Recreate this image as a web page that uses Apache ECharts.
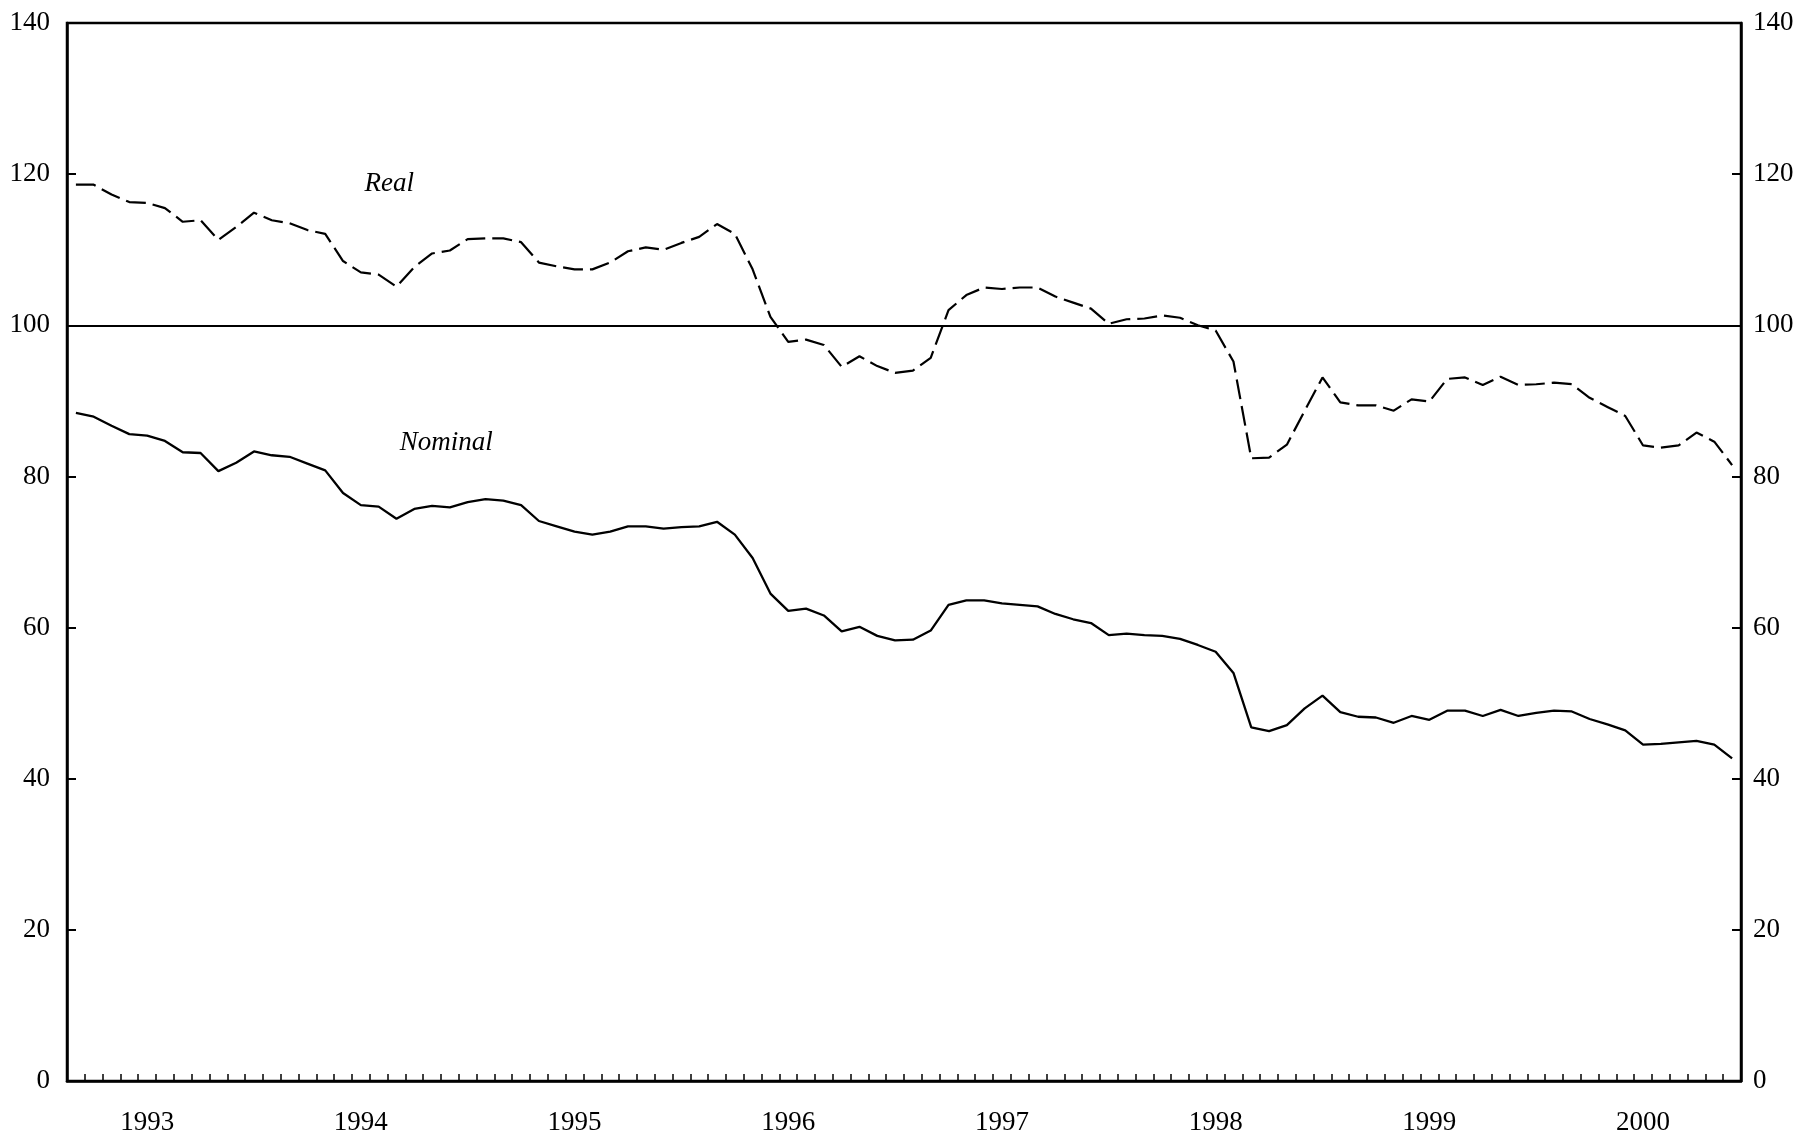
<!DOCTYPE html>
<html><head><meta charset="utf-8">
<script src="https://cdn.jsdelivr.net/npm/echarts@6/dist/echarts.min.js"></script>
<style>html,body{margin:0;padding:0;background:#fff}#c{width:1811px;height:1136px}</style>
</head><body><div id="c"></div>
<script>
// Monthly observations, March 1993 - December 2000
const startYear = 1993;
const startMonth = 3;
const monthCount = 94;
const months = [];
for (let k = 0; k < monthCount; k++) {
  const m = startMonth - 1 + k;
  const y = startYear + Math.floor(m / 12);
  const mm = (m % 12) + 1;
  months.push(y + '-' + (mm < 10 ? '0' + mm : mm));
}

const nominal = [
  88.4, 87.9, 86.7, 85.6, 85.4, 84.7, 83.2, 83.1, 80.7, 81.8,
  83.3, 82.8, 82.6, 81.7, 80.8, 77.8, 76.2, 76.0, 74.4, 75.7,
  76.1, 75.9, 76.6, 77.0, 76.8, 76.2, 74.1, 73.4, 72.7, 72.3,
  72.7, 73.4, 73.4, 73.1, 73.3, 73.4, 74.0, 72.3, 69.2, 64.5,
  62.2, 62.5, 61.6, 59.5, 60.1, 58.9, 58.3, 58.4, 59.6, 63.0,
  63.6, 63.6, 63.2, 63.0, 62.8, 61.8, 61.1, 60.6, 59.0, 59.2,
  59.0, 58.9, 58.5, 57.7, 56.8, 54.0, 46.8, 46.3, 47.1, 49.3,
  51.0, 48.8, 48.2, 48.1, 47.4, 48.3, 47.8, 49.0, 49.0, 48.3,
  49.1, 48.3, 48.7, 49.0, 48.9, 47.9, 47.2, 46.4, 44.5, 44.6,
  44.8, 45.0, 44.5, 42.7
];

const real = [
  118.6, 118.6, 117.3, 116.3, 116.2, 115.5, 113.7, 113.9, 111.3, 113.0,
  114.9, 113.9, 113.5, 112.6, 112.1, 108.5, 107.0, 106.7, 105.1, 107.7,
  109.5, 109.9, 111.4, 111.5, 111.5, 111.0, 108.3, 107.8, 107.4, 107.4,
  108.3, 109.8, 110.3, 110.0, 110.9, 111.7, 113.4, 112.1, 107.4, 101.1,
  97.8, 98.1, 97.4, 94.5, 95.9, 94.6, 93.7, 94.0, 95.7, 102.0,
  104.0, 105.0, 104.8, 105.0, 105.0, 103.8, 103.0, 102.2, 100.2, 100.8,
  100.9, 101.3, 101.0, 100.0, 99.3, 95.2, 82.4, 82.5, 84.2, 88.7,
  93.1, 89.8, 89.4, 89.4, 88.7, 90.2, 89.9, 92.9, 93.1, 92.1,
  93.2, 92.1, 92.2, 92.4, 92.2, 90.4, 89.2, 88.0, 84.1, 83.8,
  84.1, 85.8, 84.6, 81.5
];

const referenceLevel = 100;
const yMin = 0, yMax = 140, yStep = 20;
const yearLabelMonth = 7; // year label sits under July
const annotations = [
  { text: 'Real', x: 17.6, y: 118.7 },
  { text: 'Nominal', x: 20.8, y: 84.4 }
];

const FONT = '"Liberation Serif", "Times New Roman", serif';
const chart = echarts.init(document.getElementById('c'), null, { renderer: 'canvas' });

const yAxisBase = (pos, margin) => ({
  type: 'value', position: pos, min: yMin, max: yMax, interval: yStep,
  axisLine: { show: true, onZero: false, lineStyle: { color: '#000', width: 2.5 } },
  axisTick: { show: true, inside: true, length: 9, lineStyle: { color: '#000', width: 2 } },
  axisLabel: { margin: margin, color: '#000', fontFamily: FONT, fontSize: 27 },
  splitLine: { show: false }
});

chart.setOption({
  animation: false,
  backgroundColor: '#fff',
  grid: { left: 67, right: 70, top: 23, bottom: 55, show: true, borderColor: '#000', borderWidth: 2.5, backgroundColor: 'transparent' },
  xAxis: {
    type: 'category', data: months, boundaryGap: true,
    axisLine: { show: true, lineStyle: { color: '#000', width: 2.5 } },
    axisTick: { show: true, inside: true, length: 7, interval: 0, lineStyle: { color: '#000', width: 1.5 } },
    axisLabel: {
      interval: (idx, val) => parseInt(val.slice(5), 10) === yearLabelMonth,
      formatter: v => v.slice(0, 4),
      margin: 28, color: '#000', fontFamily: FONT, fontSize: 27
    },
    splitLine: { show: false }
  },
  yAxis: [yAxisBase('left', 17), yAxisBase('right', 12)],
  series: [
    {
      name: 'Nominal', type: 'line', data: nominal, symbol: 'none', yAxisIndex: 0,
      lineStyle: { color: '#000', width: 2.3 },
      markLine: {
        silent: true, symbol: ['none', 'none'], label: { show: false },
        lineStyle: { color: '#000', width: 2, type: 'solid' },
        data: [{ yAxis: referenceLevel }]
      }
    },
    {
      name: 'Real', type: 'line', data: real, symbol: 'none', yAxisIndex: 0,
      lineStyle: { color: '#000', width: 2.2, type: [20, 7] }
    }
  ]
});

function toPixel(xf, yv) {
  const i0 = Math.floor(xf), i1 = i0 + 1, t = xf - i0;
  const p0 = chart.convertToPixel({ xAxisIndex: 0, yAxisIndex: 0 }, [i0, yv]);
  const p1 = chart.convertToPixel({ xAxisIndex: 0, yAxisIndex: 0 }, [i1, yv]);
  return [p0[0] + (p1[0] - p0[0]) * t, p0[1]];
}

chart.setOption({
  graphic: annotations.map(a => {
    const p = toPixel(a.x, a.y);
    return {
      type: 'text', x: p[0], y: p[1], silent: true,
      style: { text: a.text, font: 'italic 27px ' + FONT, fill: '#000', align: 'center', verticalAlign: 'middle' }
    };
  })
});
</script>
</body></html>
